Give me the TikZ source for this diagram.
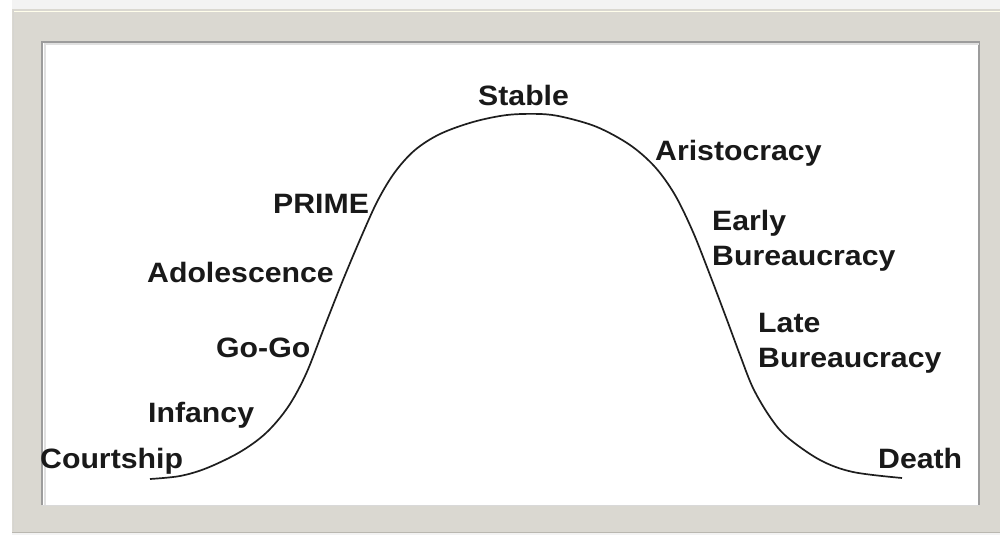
\documentclass[tikz,border=0pt]{standalone}
\usepackage{fontspec}
\setmainfont{Liberation Sans}[FakeStretch=1.08]
\definecolor{framegrey}{HTML}{DAD8D1}
\definecolor{frameedge}{HTML}{B9B7B0}
\definecolor{innerline}{HTML}{9C9C9C}
\definecolor{outerbg}{HTML}{F3F3F3}
\definecolor{curveink}{HTML}{1E1E1E}
\tikzset{
  stage/.style={anchor=base west, inner sep=0pt, font=\fontsize{28}{35}\selectfont\bfseries, text=black!90},
  lifecurve/.style={draw=curveink, line width=1.7pt, smooth, tension=0.55},
}
\begin{document}
\begin{tikzpicture}[x=1pt, y=-1pt]
  \useasboundingbox (0,0) rectangle (1000,535);
  % backdrop and picture frame
  \fill[outerbg] (0,0) rectangle (1000,535);
  \fill[white] (0,0) rectangle (12,535);
  \fill[framegrey] (12,9) rectangle (1003,532);
  \draw[frameedge, line width=1pt] (12,532) -- (1003,532);
  \draw[white!92!yellow, line width=1pt] (13,12) -- (1003,12);
  \draw[frameedge!60, line width=0.8pt] (13,10) -- (13,531);
  % white panel
  \fill[white] (42,42) rectangle (979,505);
  \draw[innerline, line width=1.3pt] (42,505) -- (42,42) -- (979,42) -- (979,505);
  \draw[black!12, line width=2pt] (44.5,505) -- (44.5,44.5) -- (979,44.5);
  \draw[white!85!black, line width=0.8pt] (42,505) -- (979,505);

  % life-cycle curve
  \draw[lifecurve] plot coordinates {
    (150,479) (180,476) (207,468) (240,452) (266,433) (288,407)
    (306,374) (324,328) (343,280) (362,235) (378,200) (395,172) (415,150)
    (440,134) (473,122) (507,115) (540,114) (563,117) (597,127)
    (630,145) (655,167) (675,195) (693,232) (710,275) (727,320)
    (740,355) (753,388) (770,417) (787,437) (820,460) (853,472)
    (902,478)};

  % stage labels
  \node[stage] (courtship) at (40,468) {Courtship};
  \node[stage] (infancy) at (148,422) {Infancy};
  \node[stage] (gogo) at (216,357) {Go-Go};
  \node[stage] (adolescence) at (147,282) {Adolescence};
  \node[stage] (prime) at (273,213) {PRIME};
  \node[stage] (stable) at (478,105) {Stable};
  \node[stage] (aristocracy) at (655,160) {Aristocracy};
  \node[stage] (early) at (712,230) {Early};
  \node[stage] (earlyb) at (712,265) {Bureaucracy};
  \node[stage] (late) at (758,332) {Late};
  \node[stage] (lateb) at (758,367) {Bureaucracy};
  \node[stage] (death) at (878,468) {Death};
\end{tikzpicture}
\end{document}
